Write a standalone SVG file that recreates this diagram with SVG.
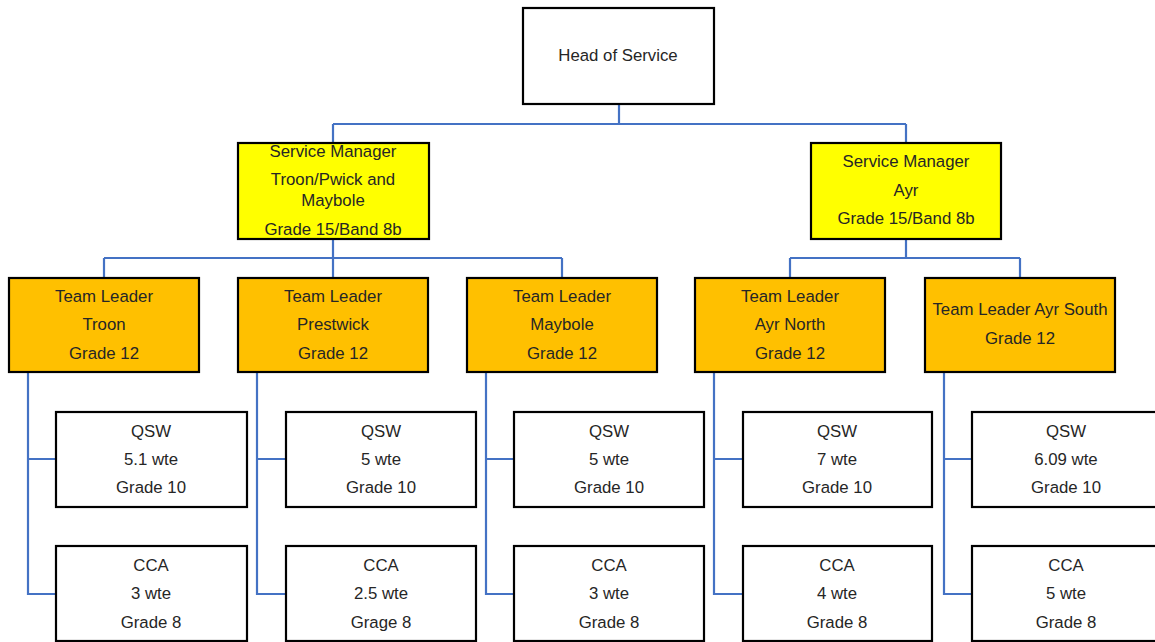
<svg xmlns="http://www.w3.org/2000/svg" width="1155" height="642" viewBox="0 0 1155 642">
<style>
.box{stroke:#000;stroke-width:2.2;}
.w{fill:#fff;}
.y{fill:#ffff00;}
.o{fill:#ffc000;}
.t{font-family:"Liberation Sans",Arial,sans-serif;font-size:16.8px;fill:#262626;text-anchor:middle;}
.c{fill:none;stroke:#4472c4;stroke-width:2.2;}
</style>
<rect width="1155" height="642" fill="#fff"/>
<g id="connectors">
<path class="c" d="M619,104 V124 M333,124 H906 M333,124 V143 M906,124 V143"/>
<path class="c" d="M333,239 V278 M104,258 H562 M104,258 V278 M562,258 V278"/>
<path class="c" d="M906,239 V258 M790,258 H1020 M790,258 V278 M1020,258 V278"/>
<path class="c" d="M28,372 V594 H56 M28,459 H56"/>
<path class="c" d="M257,372 V594 H286 M257,459 H286"/>
<path class="c" d="M486,372 V594 H514 M486,459 H514"/>
<path class="c" d="M714,372 V594 H743 M714,459 H743"/>
<path class="c" d="M944,372 V594 H972 M944,459 H972"/>
</g>
<g id="head"><rect class="box w" x="523" y="8" width="191" height="96"/><text class="t" x="618" y="61">Head of Service</text></g>
<g id="sm-troon"><rect class="box y" x="238" y="143" width="191" height="96"/>
<text class="t" x="333" y="157">Service Manager</text><text class="t" x="333" y="185">Troon/Pwick and</text><text class="t" x="333" y="206">Maybole</text><text class="t" x="333" y="235">Grade 15/Band 8b</text></g>
<g id="sm-ayr"><rect class="box y" x="811" y="143" width="190" height="96"/>
<text class="t" x="906" y="167">Service Manager</text><text class="t" x="906" y="196">Ayr</text><text class="t" x="906" y="224">Grade 15/Band 8b</text></g>
<g id="tl-troon"><rect class="box o" x="9" y="278" width="190" height="94"/>
<text class="t" x="104" y="302">Team Leader</text><text class="t" x="104" y="330">Troon</text><text class="t" x="104" y="359">Grade 12</text></g>
<g id="tl-prestwick"><rect class="box o" x="238" y="278" width="190" height="94"/>
<text class="t" x="333" y="302">Team Leader</text><text class="t" x="333" y="330">Prestwick</text><text class="t" x="333" y="359">Grade 12</text></g>
<g id="tl-maybole"><rect class="box o" x="467" y="278" width="190" height="94"/>
<text class="t" x="562" y="302">Team Leader</text><text class="t" x="562" y="330">Maybole</text><text class="t" x="562" y="359">Grade 12</text></g>
<g id="tl-ayrnorth"><rect class="box o" x="695" y="278" width="190" height="94"/>
<text class="t" x="790" y="302">Team Leader</text><text class="t" x="790" y="330">Ayr North</text><text class="t" x="790" y="359">Grade 12</text></g>
<g id="tl-ayrsouth"><rect class="box o" x="925" y="278" width="190" height="94"/>
<text class="t" x="1020" y="315">Team Leader Ayr South</text><text class="t" x="1020" y="344">Grade 12</text></g>
<g id="qsw-troon"><rect class="box w" x="56" y="412" width="191" height="95"/>
<text class="t" x="151" y="437">QSW</text><text class="t" x="151" y="465">5.1 wte</text><text class="t" x="151" y="493">Grade 10</text></g>
<g id="qsw-prestwick"><rect class="box w" x="286" y="412" width="190" height="95"/>
<text class="t" x="381" y="437">QSW</text><text class="t" x="381" y="465">5 wte</text><text class="t" x="381" y="493">Grade 10</text></g>
<g id="qsw-maybole"><rect class="box w" x="514" y="412" width="190" height="95"/>
<text class="t" x="609" y="437">QSW</text><text class="t" x="609" y="465">5 wte</text><text class="t" x="609" y="493">Grade 10</text></g>
<g id="qsw-ayrnorth"><rect class="box w" x="743" y="412" width="189" height="95"/>
<text class="t" x="837" y="437">QSW</text><text class="t" x="837" y="465">7 wte</text><text class="t" x="837" y="493">Grade 10</text></g>
<g id="qsw-ayrsouth"><rect class="box w" x="972" y="412" width="190" height="95"/>
<text class="t" x="1066" y="437">QSW</text><text class="t" x="1066" y="465">6.09 wte</text><text class="t" x="1066" y="493">Grade 10</text></g>
<g id="cca-troon"><rect class="box w" x="56" y="546" width="191" height="95"/>
<text class="t" x="151" y="571">CCA</text><text class="t" x="151" y="599">3 wte</text><text class="t" x="151" y="628">Grade 8</text></g>
<g id="cca-prestwick"><rect class="box w" x="286" y="546" width="190" height="95"/>
<text class="t" x="381" y="571">CCA</text><text class="t" x="381" y="599">2.5 wte</text><text class="t" x="381" y="628">Grage 8</text></g>
<g id="cca-maybole"><rect class="box w" x="514" y="546" width="190" height="95"/>
<text class="t" x="609" y="571">CCA</text><text class="t" x="609" y="599">3 wte</text><text class="t" x="609" y="628">Grade 8</text></g>
<g id="cca-ayrnorth"><rect class="box w" x="743" y="546" width="189" height="95"/>
<text class="t" x="837" y="571">CCA</text><text class="t" x="837" y="599">4 wte</text><text class="t" x="837" y="628">Grade 8</text></g>
<g id="cca-ayrsouth"><rect class="box w" x="972" y="546" width="190" height="95"/>
<text class="t" x="1066" y="571">CCA</text><text class="t" x="1066" y="599">5 wte</text><text class="t" x="1066" y="628">Grade 8</text></g>
</svg>
